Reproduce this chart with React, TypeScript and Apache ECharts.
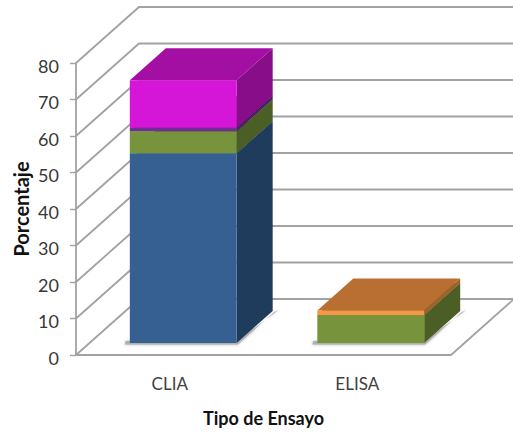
import React, { useEffect, useRef } from "react";
import * as echarts from "echarts";

const categories = ["CLIA", "ELISA"];
const yTicks = [0, 10, 20, 30, 40, 50, 60, 70, 80];

// Stacked percentages per test type, bottom to top.
const blueValues = [52, 0];
const greenValues = [6, 7.7];
const purpleValues = [1, 0];
const magentaValues = [13, 0];
const orangeValues = [0, 1.2];

const stackLayers = [
  { name: "A", values: blueValues, front: "#376092", side: "#203c5c", top: "#2c4d75" },
  { name: "B", values: greenValues, front: "#77933c", side: "#4a5e25", top: "#5f7630" },
  { name: "C", values: purpleValues, front: "#6f2f90", side: "#4c1e66", top: "#5a2575" },
  { name: "D", values: magentaValues, front: "#d516d8", side: "#870e88", top: "#a40fa3" },
  { name: "E", values: orangeValues, front: "#f79646", side: "#a0622b", top: "#b96f31" },
];

// Oblique projection of the chart box and of the bars inside it.
const WALL_DX = 63;
const WALL_DY = -56;
const BAR_SHIFT_X = 13.5;
const BAR_SHIFT_Y = -12;
const BAR_DX = 36;
const BAR_DY = -32;
const BAR_RATIO = 0.57;
const LINE_COLOR = "#a2a2a2";

const FONT = "Lato";

function poly(points: number[][], style: object, z2 = 0) {
  return { type: "polygon", shape: { points }, style, z2 };
}

function renderWall(params: any, api: any) {
  const cs = params.coordSys;
  const p = api.coord([0, api.value(0)]);
  const y = p[1];
  const left = cs.x;
  const right = cs.x + cs.width;
  const stroke = { stroke: LINE_COLOR, lineWidth: 1.8, fill: "none" };
  const tick = api.value(0);
  const backY = y + WALL_DY;
  const children: any[] = [
    {
      type: "polyline",
      shape: {
        points: [
          [left, y],
          [left + WALL_DX, backY],
          [right + WALL_DX, backY],
        ],
      },
      style: stroke,
    },
  ];
  if (tick === 0) {
    children.push({
      type: "polyline",
      shape: {
        points: [
          [right + WALL_DX, backY],
          [right, y],
        ],
      },
      style: stroke,
    });
  }
  return { type: "group", children };
}

function renderShadow(params: any, api: any) {
  const cat = api.value(0);
  const base = api.coord([cat, 0]);
  const half = (api.size([1, 0])[0] * BAR_RATIO) / 2;
  const x0 = base[0] + BAR_SHIFT_X - half;
  const x1 = base[0] + BAR_SHIFT_X + half;
  const y = base[1] + BAR_SHIFT_Y;
  return poly(
    [
      [x0 - 4, y - 2],
      [x1, y - 2],
      [x1 + BAR_DX + 6, y + BAR_DY - 1],
      [x1 + BAR_DX + 1, y + BAR_DY + 1.5],
      [x1 + 1, y + 1.5],
      [x0 - 5, y + 1.5],
    ],
    { fill: "#b0b0b0", shadowBlur: 3, shadowColor: "rgba(140,140,140,0.7)" }
  );
}

function renderLayer(colors: any) {
  return (params: any, api: any) => {
    const cat = api.value(0);
    const bottom = api.coord([cat, api.value(1)]);
    const top = api.coord([cat, api.value(2)]);
    const half = (api.size([1, 0])[0] * BAR_RATIO) / 2;
    const x0 = bottom[0] + BAR_SHIFT_X - half;
    const x1 = bottom[0] + BAR_SHIFT_X + half;
    const yb = bottom[1] + BAR_SHIFT_Y;
    const yt = top[1] + BAR_SHIFT_Y;
    return {
      type: "group",
      children: [
        poly(
          [
            [x0, yt],
            [x1, yt],
            [x1 + BAR_DX, yt + BAR_DY],
            [x0 + BAR_DX, yt + BAR_DY],
          ],
          { fill: colors.top }
        ),
        poly(
          [
            [x1, yb],
            [x1 + BAR_DX, yb + BAR_DY],
            [x1 + BAR_DX, yt + BAR_DY],
            [x1, yt],
          ],
          { fill: colors.side }
        ),
        poly(
          [
            [x0, yb],
            [x1, yb],
            [x1, yt],
            [x0, yt],
          ],
          { fill: colors.front }
        ),
      ],
    };
  };
}

function layerSeries() {
  const running = categories.map(() => 0);
  return stackLayers.map((layer) => {
    const data: number[][] = [];
    layer.values.forEach((v, i) => {
      if (v > 0) {
        data.push([i, running[i], running[i] + v]);
        running[i] += v;
      }
    });
    return {
      type: "custom",
      name: layer.name,
      silent: true,
      renderItem: renderLayer(layer),
      encode: { x: 0, y: [1, 2] },
      data,
      z: 3,
    };
  });
}

export default function App() {
  const ref = useRef<HTMLDivElement>(null);

  useEffect(() => {
    const chart = echarts.init(ref.current!, null, { renderer: "svg" });
    chart.setOption({
      animation: false,
      backgroundColor: "#ffffff",
      grid: { left: 76, top: 63, width: 375, height: 292, containLabel: false, outerBoundsMode: "none" },
      xAxis: {
        type: "category",
        data: categories,
        name: "Tipo de Ensayo",
        nameLocation: "middle",
        nameGap: 54,
        nameMoveOverlap: false,
        nameTextStyle: { fontFamily: FONT, fontWeight: "bold", fontSize: 18, color: "#111111" },
        axisLine: { show: true, lineStyle: { color: LINE_COLOR, width: 1.8 } },
        axisTick: { show: false },
        axisLabel: { fontFamily: FONT, fontSize: 17, color: "#404040", margin: 20 },
      },
      yAxis: {
        type: "value",
        min: 0,
        max: 80,
        interval: 10,
        name: "Porcentaje",
        nameLocation: "middle",
        nameGap: 45,
        nameMoveOverlap: false,
        nameRotate: 90,
        nameTextStyle: { fontFamily: FONT, fontWeight: "bold", fontSize: 20, color: "#111111" },
        axisLine: { show: true, lineStyle: { color: LINE_COLOR, width: 1.8 } },
        axisTick: { show: true, length: 6, lineStyle: { color: LINE_COLOR, width: 1.4 } },
        axisLabel: {
          margin: 17,
          formatter: "{n|{value}}",
          rich: { n: { fontFamily: FONT, fontSize: 18, color: "#383838", padding: [5, 0, 0, 0] } },
        },
        splitLine: { show: false },
      },
      series: [
        {
          type: "custom",
          silent: true,
          renderItem: renderWall,
          encode: { y: 0 },
          data: yTicks.map((t) => [t]),
          z: 1,
        },
        {
          type: "custom",
          silent: true,
          renderItem: renderShadow,
          encode: { x: 0 },
          data: categories.map((_, i) => [i]),
          z: 2,
        },
        ...layerSeries(),
      ],
    });
    return () => chart.dispose();
  }, []);

  return <div ref={ref} style={{ position: "absolute", left: 0, top: 0, width: 513, height: 433 }} />;
}
